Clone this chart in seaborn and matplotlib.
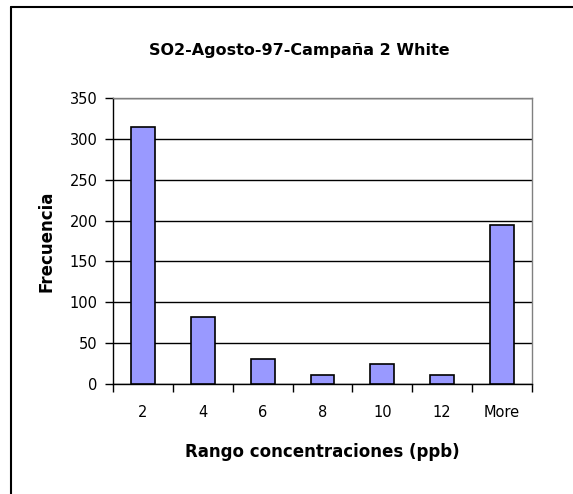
import matplotlib
matplotlib.use("Agg")
import matplotlib.pyplot as plt
import seaborn as sns
import pandas as pd
import numpy as np
from matplotlib.lines import Line2D

categories = ["2", "4", "6", "8", "10", "12", "More"]
frecuencia = [314, 82, 30, 11, 24, 11, 195]
yticks = [0, 50, 100, 150, 200, 250, 300, 350]

sns.set_theme(style="white")
plt.rcParams["font.family"] = ["DejaVu Sans"]
plt.rcParams["text.color"] = "black"
plt.rcParams["axes.labelcolor"] = "black"
plt.rcParams["xtick.color"] = "black"
plt.rcParams["ytick.color"] = "black"

df = pd.DataFrame({"cat": categories, "freq": frecuencia})

fig = plt.figure(figsize=(5.73, 4.94), dpi=100)
ax = fig.add_axes([113/573, 1-384/494, (532-113)/573, (384-98)/494])

sns.barplot(data=df, x="cat", y="freq", ax=ax, color="#9999FF", width=0.4,
            edgecolor="black", linewidth=1.2, saturation=1, zorder=3)

ax.set_ylim(0, 350)
ax.set_xlim(-0.5, len(categories) - 0.5)
ax.set_yticks(yticks)
ax.set_yticklabels([str(v) for v in yticks], fontsize=10.5)
ax.yaxis.grid(True, color="black", linewidth=1.0, zorder=0)
ax.set_axisbelow(True)

ax.tick_params(axis="x", which="major", length=0, labelsize=10.5, pad=15, bottom=True)
ax.set_xticks(np.arange(-0.5, len(categories), 1.0), minor=True)
ax.tick_params(axis="x", which="minor", length=6, width=1, color="black",
               direction="out", bottom=True)
ax.tick_params(axis="y", which="major", length=6, width=1, color="black",
               direction="out", pad=5, left=True)

for s in ["left", "bottom"]:
    ax.spines[s].set_visible(True)
    ax.spines[s].set_color("black")
    ax.spines[s].set_linewidth(1.0)
for s in ["top", "right"]:
    ax.spines[s].set_visible(True)
    ax.spines[s].set_color("#808080")
    ax.spines[s].set_linewidth(1.0)

ax.set_xlabel("Rango concentraciones (ppb)", fontsize=12, fontweight="bold", labelpad=17)
ax.set_ylabel("Frecuencia", fontsize=12, fontweight="bold", labelpad=10)
fig.text(0.522, 1-51/494, "SO2-Agosto-97-Campaña 2 White", fontsize=11.5, fontweight="bold",
         ha="center", va="center")

# chart area border (left and top, cropped)
fig.add_artist(Line2D([10.5/573, 10.5/573], [0, 1-7.5/494], transform=fig.transFigure,
                      color="black", linewidth=1.5))
fig.add_artist(Line2D([10.5/573, 1], [1-7.5/494, 1-7.5/494], transform=fig.transFigure,
                      color="black", linewidth=1.5))

fig.savefig("out.png", dpi=100, facecolor="white")
